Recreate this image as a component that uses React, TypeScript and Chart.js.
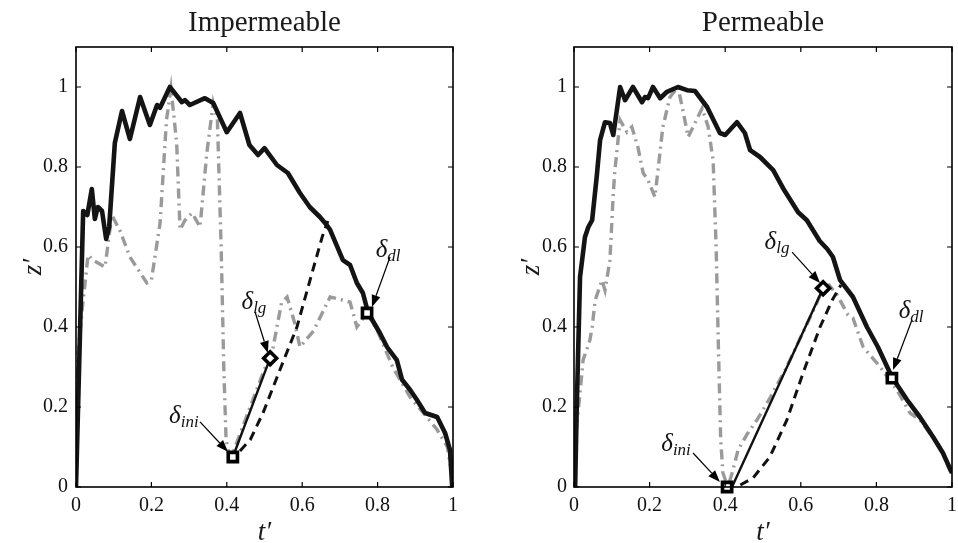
import React, { useEffect, useRef } from 'react';
import { Chart, registerables } from 'chart.js';

Chart.register(...registerables);

const SERIF = "'Liberation Serif', 'DejaVu Serif', serif";

// ---- axis ticks ----
const T_TICKS = [0, 0.2, 0.4, 0.6, 0.8, 1];
const T_TICK_LABELS = ['0', '0.2', '0.4', '0.6', '0.8', '1'];
const Z_TICKS = [0, 0.2, 0.4, 0.6, 0.8, 1];
const Z_TICK_LABELS = ['0', '0.2', '0.4', '0.6', '0.8', '1'];
const T_MIN = 0;
const T_MAX = 1;
const Z_MIN = 0;
const Z_MAX = 1.1;

const TITLES = ['Impermeable', 'Permeable'];
const X_LABEL = 't′';
const Y_LABEL = 'z′';
const MARK_SUBS = ['ini', 'lg', 'dl'];
const MARK_SHAPES = ['rect', 'rectRot', 'rect'];

// ---- Impermeable panel ----
const impBlackT = [0, 0.019, 0.03, 0.042, 0.05, 0.058, 0.069, 0.08, 0.088, 0.103, 0.122, 0.143, 0.17, 0.196, 0.215, 0.223, 0.249, 0.281, 0.289, 0.302, 0.342, 0.364, 0.40, 0.435, 0.46, 0.483, 0.50, 0.533, 0.562, 0.594, 0.62, 0.647, 0.665, 0.674, 0.708, 0.727, 0.745, 0.761, 0.775, 0.806, 0.825, 0.851, 0.865, 0.886, 0.904, 0.926, 0.958, 0.979, 0.992, 0.998];
const impBlackZ = [0, 0.69, 0.68, 0.745, 0.67, 0.70, 0.69, 0.62, 0.65, 0.86, 0.94, 0.87, 0.975, 0.905, 0.955, 0.948, 1.0, 0.962, 0.967, 0.955, 0.972, 0.96, 0.887, 0.935, 0.855, 0.83, 0.847, 0.805, 0.785, 0.735, 0.70, 0.675, 0.655, 0.643, 0.567, 0.555, 0.51, 0.485, 0.435, 0.385, 0.35, 0.317, 0.268, 0.243, 0.218, 0.185, 0.175, 0.135, 0.0925, 0.0];

const impGrayT = [0, 0.016, 0.032, 0.045, 0.077, 0.095, 0.117, 0.143, 0.188, 0.2, 0.223, 0.24, 0.252, 0.267, 0.276, 0.289, 0.308, 0.329, 0.347, 0.364, 0.375, 0.385, 0.392, 0.398, 0.405, 0.412, 0.45, 0.49, 0.523, 0.545, 0.56, 0.58, 0.594, 0.63, 0.674, 0.708, 0.727, 0.745, 0.772, 0.80, 0.84, 0.886, 0.926, 0.958, 0.985, 0.997];
const impGrayZ = [0.275, 0.44, 0.58, 0.567, 0.55, 0.68, 0.64, 0.575, 0.51, 0.517, 0.66, 0.917, 0.997, 0.86, 0.643, 0.667, 0.685, 0.65, 0.835, 0.96, 0.92, 0.60, 0.30, 0.12, 0.085, 0.075, 0.17, 0.27, 0.35, 0.46, 0.475, 0.41, 0.35, 0.39, 0.475, 0.467, 0.462, 0.40, 0.435, 0.39, 0.30, 0.225, 0.18, 0.143, 0.10, 0.03];

const impDashT = [0.435, 0.462, 0.496, 0.541, 0.586, 0.621, 0.653, 0.668];
const impDashZ = [0.09, 0.118, 0.185, 0.293, 0.40, 0.518, 0.625, 0.665];

const impLinkT = [0.416, 0.515];
const impLinkZ = [0.075, 0.322];

const impMarkT = [0.416, 0.515, 0.772];
const impMarkZ = [0.075, 0.322, 0.435];

const impLabelT = [0.286, 0.472, 0.828];
const impLabelZ = [0.175, 0.46, 0.59];
const impArrowFromT = [0.329, 0.475, 0.833];
const impArrowFromZ = [0.163, 0.4375, 0.575];
const impArrowToT = [0.403, 0.509, 0.785];
const impArrowToZ = [0.088, 0.335, 0.45];

// ---- Permeable panel ----
const permBlackT = [0.003, 0.007, 0.016, 0.029, 0.038, 0.048, 0.06, 0.069, 0.082, 0.095, 0.104, 0.122, 0.135, 0.156, 0.18, 0.188, 0.196, 0.209, 0.228, 0.246, 0.275, 0.299, 0.32, 0.352, 0.386, 0.40, 0.431, 0.452, 0.466, 0.492, 0.527, 0.553, 0.593, 0.616, 0.65, 0.67, 0.685, 0.704, 0.738, 0.775, 0.804, 0.841, 0.881, 0.915, 0.95, 0.976, 1.0];
const permBlackZ = [0, 0.19, 0.525, 0.625, 0.65, 0.667, 0.775, 0.867, 0.912, 0.91, 0.88, 1.0, 0.967, 1.0, 0.962, 0.975, 0.972, 1.0, 0.972, 0.988, 1.0, 0.992, 0.99, 0.95, 0.885, 0.88, 0.912, 0.885, 0.842, 0.825, 0.792, 0.747, 0.687, 0.667, 0.615, 0.595, 0.575, 0.517, 0.475, 0.40, 0.35, 0.275, 0.218, 0.175, 0.125, 0.085, 0.035];

const permGrayT = [0.0, 0.016, 0.024, 0.042, 0.048, 0.056, 0.074, 0.082, 0.095, 0.104, 0.108, 0.122, 0.14, 0.153, 0.169, 0.183, 0.196, 0.214, 0.222, 0.235, 0.254, 0.275, 0.288, 0.302, 0.315, 0.339, 0.355, 0.368, 0.376, 0.382, 0.388, 0.394, 0.407, 0.42, 0.434, 0.46, 0.484, 0.52, 0.56, 0.60, 0.64, 0.66, 0.675, 0.696, 0.725, 0.738, 0.765, 0.81, 0.854, 0.889, 0.915, 0.968, 0.995];
const permGrayZ = [0.09, 0.235, 0.317, 0.367, 0.40, 0.467, 0.517, 0.492, 0.567, 0.735, 0.79, 0.917, 0.887, 0.90, 0.85, 0.785, 0.767, 0.725, 0.79, 0.90, 0.975, 1.0, 0.942, 0.875, 0.90, 0.947, 0.90, 0.817, 0.60, 0.35, 0.12, 0.035, 0.0, 0.04, 0.0925, 0.135, 0.1675, 0.225, 0.295, 0.375, 0.455, 0.50, 0.505, 0.48, 0.43, 0.422, 0.35, 0.30, 0.243, 0.185, 0.168, 0.10, 0.04];

const permDashT = [0.44, 0.474, 0.518, 0.563, 0.606, 0.651, 0.683, 0.706];
const permDashZ = [0.005, 0.023, 0.075, 0.167, 0.285, 0.40, 0.467, 0.505];

const permLinkT = [0.418, 0.659];
const permLinkZ = [0.0, 0.497];

const permMarkT = [0.405, 0.659, 0.841];
const permMarkZ = [0.0, 0.497, 0.272];

const permLabelT = [0.27, 0.537, 0.892];
const permLabelZ = [0.105, 0.61, 0.4375];
const permArrowFromT = [0.315, 0.577, 0.894];
const permArrowFromZ = [0.085, 0.587, 0.4175];
const permArrowToT = [0.386, 0.651, 0.844];
const permArrowToZ = [0.0125, 0.51, 0.2925];

const pts = (ts: number[], zs: number[]) => ts.map((t, i) => ({ x: t, y: zs[i] }));

function drawArrow(ctx: CanvasRenderingContext2D, x1: number, y1: number, x2: number, y2: number) {
  const ang = Math.atan2(y2 - y1, x2 - x1);
  const L = 12;
  const W = 4.5;
  const c = Math.cos(ang);
  const s = Math.sin(ang);
  ctx.strokeStyle = '#000';
  ctx.fillStyle = '#000';
  ctx.lineWidth = 1.2;
  ctx.beginPath();
  ctx.moveTo(x1, y1);
  ctx.lineTo(x2 - L * c, y2 - L * s);
  ctx.stroke();
  ctx.beginPath();
  ctx.moveTo(x2, y2);
  ctx.lineTo(x2 - L * c + W * s, y2 - L * s - W * c);
  ctx.lineTo(x2 - L * c - W * s, y2 - L * s + W * c);
  ctx.closePath();
  ctx.fill();
}

function drawDelta(ctx: CanvasRenderingContext2D, cx: number, cy: number, sub: string) {
  ctx.fillStyle = '#111';
  ctx.font = `italic 25px ${SERIF}`;
  const w1 = ctx.measureText('δ').width;
  ctx.font = `italic 17px ${SERIF}`;
  const w2 = ctx.measureText(sub).width;
  const x0 = cx - (w1 + w2) / 2;
  ctx.textAlign = 'left';
  ctx.textBaseline = 'alphabetic';
  ctx.font = `italic 25px ${SERIF}`;
  ctx.fillText('δ', x0, cy + 6);
  ctx.font = `italic 17px ${SERIF}`;
  ctx.fillText(sub, x0 + w1, cy + 10);
}

const decor = {
  id: 'decor',
  afterDraw(chart: any, _args: any, o: any) {
    const { ctx, chartArea: a } = chart;
    const xs = chart.scales.x;
    const ys = chart.scales.y;
    ctx.save();
    // frame
    ctx.strokeStyle = '#000';
    ctx.lineWidth = 1.6;
    ctx.strokeRect(a.left, a.top, a.right - a.left, a.bottom - a.top);
    // inward ticks
    ctx.lineWidth = 1.2;
    ctx.beginPath();
    T_TICKS.forEach((v) => {
      const p = xs.getPixelForValue(v);
      ctx.moveTo(p, a.bottom);
      ctx.lineTo(p, a.bottom - 5);
      ctx.moveTo(p, a.top);
      ctx.lineTo(p, a.top + 5);
    });
    Z_TICKS.forEach((v) => {
      const p = ys.getPixelForValue(v);
      ctx.moveTo(a.left, p);
      ctx.lineTo(a.left + 5, p);
      ctx.moveTo(a.right, p);
      ctx.lineTo(a.right - 5, p);
    });
    ctx.stroke();

    const cx = (a.left + a.right) / 2;
    const cy = (a.top + a.bottom) / 2;
    ctx.fillStyle = '#1a1a1a';
    // title
    ctx.font = `29px ${SERIF}`;
    ctx.textAlign = 'center';
    ctx.textBaseline = 'alphabetic';
    ctx.fillText(o.title, cx, a.top - 16);
    // x label
    ctx.font = `italic 27px ${SERIF}`;
    ctx.fillText(X_LABEL, cx, a.bottom + 53);
    // y label
    ctx.save();
    ctx.translate(a.left - 42, cy);
    ctx.rotate(-Math.PI / 2);
    ctx.textBaseline = 'middle';
    ctx.fillText(Y_LABEL, 0, 0);
    ctx.restore();

    // annotations
    const n = o.labelT.length;
    for (let i = 0; i < n; i++) {
      drawArrow(
        ctx,
        xs.getPixelForValue(o.fromT[i]),
        ys.getPixelForValue(o.fromZ[i]),
        xs.getPixelForValue(o.toT[i]),
        ys.getPixelForValue(o.toZ[i])
      );
      drawDelta(ctx, xs.getPixelForValue(o.labelT[i]), ys.getPixelForValue(o.labelZ[i]), MARK_SUBS[i]);
    }
    ctx.restore();
  },
};

type PanelCfg = {
  title: string;
  left: number;
  width: number;
  yAxisWidth: number;
  padRight: number;
  tickPadY: number;
  black: [number[], number[]];
  gray: [number[], number[]];
  dash: [number[], number[]];
  link: [number[], number[]];
  mark: [number[], number[]];
  labelT: number[];
  labelZ: number[];
  fromT: number[];
  fromZ: number[];
  toT: number[];
  toZ: number[];
};

function Panel({ cfg }: { cfg: PanelCfg }) {
  const ref = useRef<HTMLCanvasElement>(null);
  useEffect(() => {
    const tickFont = { family: SERIF, size: 20 };
    const chart = new Chart(ref.current as HTMLCanvasElement, {
      type: 'line',
      data: {
        datasets: [
          {
            data: pts(cfg.mark[0], cfg.mark[1]),
            showLine: false,
            pointStyle: MARK_SHAPES as any,
            pointRadius: 6.5,
            pointBorderWidth: 3.6,
            pointBackgroundColor: '#ffffff',
            pointBorderColor: '#000000',
            clip: false as any,
            order: 0,
          },
          {
            data: pts(cfg.black[0], cfg.black[1]),
            borderColor: '#141414',
            borderWidth: 4.6,
            pointRadius: 0,
            tension: 0,
            borderJoinStyle: 'round',
            order: 1,
          },
          {
            data: pts(cfg.link[0], cfg.link[1]),
            borderColor: '#111111',
            borderWidth: 2.4,
            pointRadius: 0,
            tension: 0,
            order: 2,
          },
          {
            data: pts(cfg.dash[0], cfg.dash[1]),
            borderColor: '#111111',
            borderWidth: 3,
            borderDash: [9, 6],
            pointRadius: 0,
            tension: 0,
            order: 3,
          },
          {
            data: pts(cfg.gray[0], cfg.gray[1]),
            borderColor: '#9a9a9a',
            borderWidth: 3.4,
            borderDash: [10, 5, 2, 5],
            pointRadius: 0,
            tension: 0,
            order: 4,
          },
        ],
      },
      options: {
        animation: false,
        responsive: false,
        maintainAspectRatio: false,
        devicePixelRatio: 1,
        events: [],
        layout: { autoPadding: false, padding: { top: 47, right: cfg.padRight, left: 0, bottom: 0 } },
        plugins: {
          legend: { display: false },
          tooltip: { enabled: false },
          title: { display: false },
          decor: {
            title: cfg.title,
            labelT: cfg.labelT,
            labelZ: cfg.labelZ,
            fromT: cfg.fromT,
            fromZ: cfg.fromZ,
            toT: cfg.toT,
            toZ: cfg.toZ,
          },
        } as any,
        scales: {
          x: {
            type: 'linear',
            min: T_MIN,
            max: T_MAX,
            afterBuildTicks: (s: any) => {
              s.ticks = T_TICKS.map((v) => ({ value: v }));
            },
            afterFit: (s: any) => {
              s.height = 56;
              s.paddingLeft = 0;
              s.paddingRight = 0;
            },
            ticks: {
              callback: (_v: any, i: number) => T_TICK_LABELS[i],
              font: tickFont,
              color: '#111',
              padding: 7,
              maxRotation: 0,
              minRotation: 0,
              autoSkip: false,
            },
            grid: { display: false, drawTicks: false },
            border: { display: false },
          },
          y: {
            type: 'linear',
            min: Z_MIN,
            max: Z_MAX,
            afterBuildTicks: (s: any) => {
              s.ticks = Z_TICKS.map((v) => ({ value: v }));
            },
            afterFit: (s: any) => {
              s.width = cfg.yAxisWidth;
              s.paddingTop = 0;
              s.paddingBottom = 0;
            },
            ticks: {
              callback: (_v: any, i: number) => Z_TICK_LABELS[i],
              font: tickFont,
              color: '#111',
              padding: cfg.tickPadY,
              autoSkip: false,
            },
            grid: { display: false, drawTicks: false },
            border: { display: false },
          },
        },
      } as any,
      plugins: [decor as any],
    });
    return () => chart.destroy();
  }, [cfg]);
  return (
    <canvas
      ref={ref}
      width={cfg.width}
      height={543}
      style={{ position: 'absolute', left: cfg.left, top: 0, width: cfg.width, height: 543 }}
    />
  );
}

const IMP: PanelCfg = {
  title: TITLES[0],
  left: 0,
  width: 479,
  yAxisWidth: 76,
  padRight: 26,
  tickPadY: 8,
  black: [impBlackT, impBlackZ],
  gray: [impGrayT, impGrayZ],
  dash: [impDashT, impDashZ],
  link: [impLinkT, impLinkZ],
  mark: [impMarkT, impMarkZ],
  labelT: impLabelT,
  labelZ: impLabelZ,
  fromT: impArrowFromT,
  fromZ: impArrowFromZ,
  toT: impArrowToT,
  toZ: impArrowToZ,
};

const PERM: PanelCfg = {
  title: TITLES[1],
  left: 479,
  width: 479,
  yAxisWidth: 95,
  padRight: 6,
  tickPadY: 7,
  black: [permBlackT, permBlackZ],
  gray: [permGrayT, permGrayZ],
  dash: [permDashT, permDashZ],
  link: [permLinkT, permLinkZ],
  mark: [permMarkT, permMarkZ],
  labelT: permLabelT,
  labelZ: permLabelZ,
  fromT: permArrowFromT,
  fromZ: permArrowFromZ,
  toT: permArrowToT,
  toZ: permArrowToZ,
};

export default function App() {
  return (
    <div style={{ position: 'absolute', left: 0, top: 0, width: 958, height: 543, background: '#fff', overflow: 'hidden' }}>
      <Panel cfg={IMP} />
      <Panel cfg={PERM} />
    </div>
  );
}
